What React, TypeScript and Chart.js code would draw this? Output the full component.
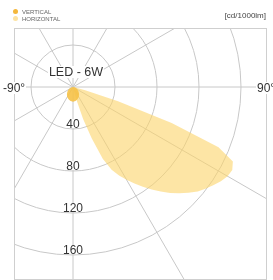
import React, { useEffect, useRef } from "react";
import { Chart, registerables } from "chart.js";

Chart.register(...registerables);

// ---- data (gamma angle in degrees: 0 = down, +90 = right, -90 = left; values in cd/1000lm)
const ANGLE_STEP = 2.5;
const LABEL_COUNT = 144;

const VERTICAL_ANGLES = [-90, -80, -70, -60, -50, -40, -30, -20, -10, 0, 10, 20, 30, 40, 50, 60, 70, 80, 90, 180];
const VERTICAL_VALUES = [0, 1, 3, 5, 7, 9, 11, 12.5, 13.5, 14, 13.5, 12.5, 11, 9, 7, 5, 3, 1, 0, 0];

const HORIZONTAL_ANGLES = [-90, 0, 10, 12.5, 15, 17.5, 20, 22.5, 25, 27.5, 30, 32.5, 35, 37.5, 40, 42.5, 45, 47.5, 50, 52.5, 55, 57.5, 60, 62.5, 65, 67.5, 70, 72.5, 75, 77.5, 80, 85, 90, 180];
const HORIZONTAL_VALUES = [0, 0, 0, 3, 12, 32, 52, 74, 87, 95, 102, 109, 116, 123, 130, 137, 143, 149, 155, 159, 163, 167, 170, 171, 168, 150, 100, 45, 12, 4, 2, 1, 0, 0];

const RADIAL_TICKS = [40, 80, 120, 160];
const GRID_MAX = 160;
const SCALE_MAX = 240;
const SERIES_NAMES = ["VERTICAL", "HORIZONTAL"];
const TITLE = "LED - 6W";
const UNIT = "[cd/1000lm]";
const LEFT_LABEL = "-90°";
const RIGHT_LABEL = "90°";

// ---- layout
const CANVAS_SIZE = 504;
const CANVAS_LEFT = -179;
const CANVAS_TOP = -165;
const BOX = { left: 14, top: 28, right: 267, bottom: 280 };
const FONT = '"Liberation Sans", Arial, Helvetica, sans-serif';

const labels = Array.from({ length: LABEL_COUNT }, (_, i) => String(i * ANGLE_STEP));

function toIndex(g: number) {
  const k = Math.round(-g / ANGLE_STEP);
  return ((k % LABEL_COUNT) + LABEL_COUNT) % LABEL_COUNT;
}

function buildSeries(angles: number[], values: number[]) {
  const arr: (number | null)[] = new Array(LABEL_COUNT).fill(null);
  angles.forEach((g, k) => {
    arr[toIndex(g)] = values[k];
  });
  return arr;
}

const clipPlugin = {
  id: "boxClip",
  beforeDraw(chart: any) {
    const ctx = chart.ctx;
    ctx.save();
    ctx.beginPath();
    ctx.rect(BOX.left - CANVAS_LEFT, BOX.top - CANVAS_TOP, BOX.right - BOX.left, BOX.bottom - BOX.top);
    ctx.clip();
  },
  afterDraw(chart: any) {
    const ctx = chart.ctx;
    ctx.restore();
    const s = chart.scales.r;
    ctx.save();
    ctx.font = `12px ${FONT}`;
    ctx.textAlign = "center";
    ctx.textBaseline = "alphabetic";
    RADIAL_TICKS.forEach((v) => {
      const y = s.yCenter + s.getDistanceFromCenterForValue(v);
      const txt = String(v);
      const w = ctx.measureText(txt).width;
      ctx.fillStyle = "#ffffff";
      ctx.fillRect(s.xCenter - w / 2 - 1, y - 10, w + 2, 9);
      ctx.fillStyle = "#333333";
      ctx.fillText(txt, s.xCenter, y - 1);
    });
    ctx.restore();
  },
};

export default function App() {
  const ref = useRef<HTMLCanvasElement | null>(null);

  useEffect(() => {
    if (!ref.current) return;
    const chart = new Chart(ref.current, {
      type: "radar",
      data: {
        labels,
        datasets: [
          {
            label: SERIES_NAMES[0],
            data: buildSeries(VERTICAL_ANGLES, VERTICAL_VALUES),
            backgroundColor: "rgba(246,194,72,0.9)",
            borderWidth: 0,
            pointRadius: 0,
            fill: true,
            spanGaps: true,
          },
          {
            label: SERIES_NAMES[1],
            data: buildSeries(HORIZONTAL_ANGLES, HORIZONTAL_VALUES),
            backgroundColor: "rgba(252,212,105,0.6)",
            borderWidth: 0,
            pointRadius: 0,
            fill: true,
            spanGaps: true,
          },
        ],
      },
      options: {
        responsive: false,
        animation: false,
        events: [],
        plugins: { legend: { display: false }, tooltip: { enabled: false } },
        elements: { line: { tension: 0 } },
        scales: {
          r: {
            min: 0,
            max: SCALE_MAX,
            startAngle: 180,
            ticks: { display: false, stepSize: 40 },
            pointLabels: { display: false },
            grid: {
              circular: true,
              color: (c: any) => (c.tick && c.tick.value <= GRID_MAX ? "#c8c8c8" : "rgba(0,0,0,0)"),
              lineWidth: 1,
            },
            angleLines: {
              display: true,
              color: (c: any) => (c.index % 12 === 0 ? "#c8c8c8" : "rgba(0,0,0,0)"),
              lineWidth: (c: any) => (c.index % 12 === 0 ? 1 : 0),
            },
          },
        },
      } as any,
      plugins: [clipPlugin],
    });
    return () => chart.destroy();
  }, []);

  const textBase: React.CSSProperties = { position: "absolute", whiteSpace: "nowrap", color: "#333" };

  return (
    <div
      style={{
        position: "fixed",
        left: 0,
        top: 0,
        width: 273,
        height: 280,
        overflow: "hidden",
        background: "#fff",
        fontFamily: FONT,
      }}
    >
      <canvas
        ref={ref}
        width={CANVAS_SIZE}
        height={CANVAS_SIZE}
        style={{ position: "absolute", left: CANVAS_LEFT, top: CANVAS_TOP }}
      />
      <div
        style={{
          position: "absolute",
          left: BOX.left,
          top: BOX.top,
          width: BOX.right - BOX.left,
          height: BOX.bottom - BOX.top,
          boxSizing: "border-box",
          border: "1px solid #cfcfcf",
        }}
      />
      {/* legend */}
      <div style={{ position: "absolute", left: 12.5, top: 8.5, width: 5, height: 5, borderRadius: "50%", background: "#f4b73a" }} />
      <div style={{ ...textBase, left: 22, top: 8.5, fontSize: 6, lineHeight: "6px", color: "#666" }}>{SERIES_NAMES[0]}</div>
      <div style={{ position: "absolute", left: 12.5, top: 16, width: 5, height: 5, borderRadius: "50%", background: "#fde3a2" }} />
      <div style={{ ...textBase, left: 22, top: 16, fontSize: 6, lineHeight: "6px", color: "#666" }}>{SERIES_NAMES[1]}</div>
      <div style={{ ...textBase, right: 7, top: 12, fontSize: 8, lineHeight: "8px", color: "#444" }}>{UNIT}</div>
      {/* angle labels */}
      <div style={{ ...textBase, left: 2, top: 81.5, fontSize: 12, lineHeight: "12px", background: "#fff", padding: "0 1px" }}>{LEFT_LABEL}</div>
      <div style={{ ...textBase, left: 256, top: 81.5, fontSize: 12, lineHeight: "12px", background: "#fff", padding: "0 1px" }}>{RIGHT_LABEL}</div>
      {/* title */}
      <div
        style={{
          ...textBase,
          left: 76,
          top: 66,
          transform: "translateX(-50%)",
          fontSize: 12.5,
          lineHeight: "12px",
          background: "#fff",
          padding: "0 1px",
        }}
      >
        {TITLE}
      </div>
    </div>
  );
}
